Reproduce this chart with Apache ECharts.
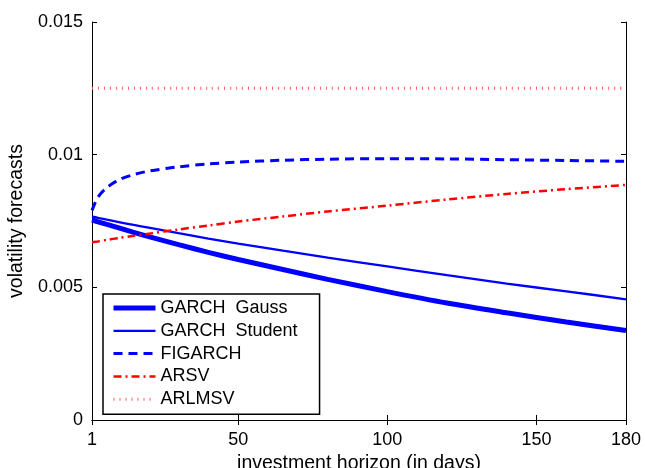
<!DOCTYPE html>
<html>
<head>
<meta charset="utf-8">
<script src="https://cdn.jsdelivr.net/npm/echarts@6/dist/echarts.min.js"></script>
<style>
  html, body { margin: 0; padding: 0; background: #fff; }
  #chart { width: 645px; height: 468px; }
</style>
</head>
<body>
<div id="chart"></div>
<script>
// investment horizon (days)
const days = [1, 3, 6, 10, 15, 20, 30, 40, 50, 65, 80, 100, 120, 140, 160, 180]

// volatility forecasts
const garchGauss = [0.00754, 0.00747, 0.00737, 0.00724, 0.00707, 0.00691, 0.00661, 0.00632, 0.00605, 0.00567, 0.00530, 0.00484, 0.00441, 0.00404, 0.00369, 0.00337]
const garchStudent = [0.00766, 0.00762, 0.00755, 0.00746, 0.00735, 0.00725, 0.00704, 0.00684, 0.00665, 0.00638, 0.00612, 0.00579, 0.00546, 0.00514, 0.00485, 0.00455]
const figarch = [0.0079, 0.0084, 0.00876, 0.00905, 0.00925, 0.00938, 0.00954, 0.00965, 0.00972, 0.00979, 0.00983, 0.00985, 0.00984, 0.00981, 0.00978, 0.00975]
const arsv = [0.0067, 0.00673, 0.00679, 0.00686, 0.00694, 0.00702, 0.00718, 0.00733, 0.00748, 0.00767, 0.00786, 0.00808, 0.00831, 0.00852, 0.0087, 0.00886]
const arlmsv = [0.0125, 0.0125, 0.0125, 0.0125, 0.0125, 0.0125, 0.0125, 0.0125, 0.0125, 0.0125, 0.0125, 0.0125, 0.0125, 0.0125, 0.0125, 0.0125]

// axis ticks
const xTicks = [1, 50, 100, 150, 180]
const yTicks = [0, 0.005, 0.01, 0.015]

const names = ['GARCH  Gauss', 'GARCH  Student', 'FIGARCH', 'ARSV', 'ARLMSV']

const FONT = 'Liberation Sans'
const pair = arr => days.map((d, i) => [d, arr[i]])

const chart = echarts.init(document.getElementById('chart'), null, { renderer: 'canvas' })

const lineSeries = (name, arr, color, width, type) => ({
  name: name,
  type: 'line',
  data: pair(arr),
  smooth: 0.3,
  symbol: 'none',
  showSymbol: false,
  animation: false,
  lineStyle: { color: color, width: width, type: type, cap: 'butt' },
  itemStyle: { color: color }
})

const tickAxis = {
  axisLine: { show: true, lineStyle: { color: '#000', width: 1 } },
  axisTick: { show: true, inside: true, length: 5, lineStyle: { color: '#000', width: 1 } },
  splitLine: { show: false }
}

const option = {
  backgroundColor: '#fff',
  animation: false,
  textStyle: { fontFamily: FONT },
  grid: { left: 92, right: 19, top: 22, bottom: 48, containLabel: false, outerBoundsMode: 'none' },
  legend: {
    data: names,
    orient: 'vertical',
    left: 103,
    top: 294,
    padding: [5, 22, 6, 8],
    itemWidth: 42,
    itemHeight: 12,
    itemGap: 4.8,
    borderColor: '#000',
    borderWidth: 1.5,
    backgroundColor: '#fff',
    itemStyle: { opacity: 0, borderWidth: 0 },
    lineStyle: { width: 'inherit' },
    textStyle: { fontFamily: FONT, fontSize: 18, color: '#000', lineHeight: 18 }
  },
  xAxis: [
    Object.assign({}, tickAxis, {
      type: 'value',
      min: 1,
      max: 180,
      position: 'bottom',
      name: 'investment horizon (in days)',
      nameLocation: 'middle',
      nameGap: 21,
      nameTextStyle: { fontFamily: FONT, fontSize: 19.5, color: '#000' },
      axisTick: Object.assign({}, tickAxis.axisTick, { customValues: xTicks }),
      axisLabel: { customValues: xTicks, fontFamily: FONT, fontSize: 18, color: '#000', margin: 11 }
    }),
    Object.assign({}, tickAxis, {
      type: 'value',
      min: 1,
      max: 180,
      position: 'top',
      axisTick: Object.assign({}, tickAxis.axisTick, { customValues: xTicks }),
      axisLabel: { show: false }
    })
  ],
  yAxis: [
    Object.assign({}, tickAxis, {
      type: 'value',
      min: 0,
      max: 0.015,
      interval: 0.005,
      position: 'left',
      name: 'volatility forecasts',
      nameLocation: 'middle',
      nameGap: 54,
      nameTextStyle: { fontFamily: FONT, fontSize: 19.5, color: '#000' },
      axisLabel: {
        customValues: yTicks,
        fontFamily: FONT, fontSize: 18, color: '#000', margin: 9,
        formatter: v => String(+v.toFixed(3))
      }
    }),
    Object.assign({}, tickAxis, {
      type: 'value',
      min: 0,
      max: 0.015,
      interval: 0.005,
      position: 'right',
      axisLabel: { show: false }
    })
  ],
  series: [
    lineSeries(names[0], garchGauss, '#0000ff', 5, 'solid'),
    lineSeries(names[1], garchStudent, '#0000ff', 2.3, 'solid'),
    lineSeries(names[2], figarch, '#0000ff', 3, [9, 6]),
    lineSeries(names[3], arsv, '#ff0000', 2.5, [8, 4, 2, 4]),
    lineSeries(names[4], arlmsv, '#ff5a5a', 3, [1, 5])
  ]
}

chart.setOption(option)
</script>
</body>
</html>
